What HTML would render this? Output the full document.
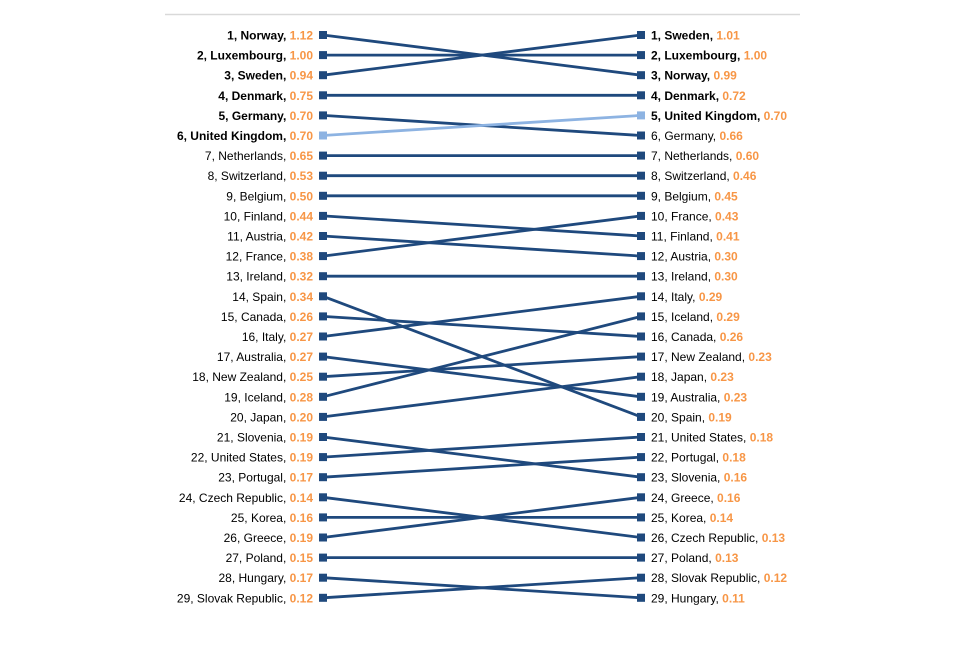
<!DOCTYPE html>
<html><head><meta charset="utf-8"><style>
body{margin:0;background:#fff;}
svg text{font-family:"Liberation Sans",Arial,sans-serif;font-size:12px;}
</style></head><body>
<svg id="chart" width="960" height="640" xmlns="http://www.w3.org/2000/svg">
<line x1="165" y1="14.5" x2="800" y2="14.5" stroke="#d9d9d9" stroke-width="1.5"/>
</svg>
<script>
const leftNames=["Norway","Luxembourg","Sweden","Denmark","Germany","United Kingdom","Netherlands","Switzerland","Belgium","Finland","Austria","France","Ireland","Spain","Canada","Italy","Australia","New Zealand","Iceland","Japan","Slovenia","United States","Portugal","Czech Republic","Korea","Greece","Poland","Hungary","Slovak Republic"];
const leftValues=["1.12","1.00","0.94","0.75","0.70","0.70","0.65","0.53","0.50","0.44","0.42","0.38","0.32","0.34","0.26","0.27","0.27","0.25","0.28","0.20","0.19","0.19","0.17","0.14","0.16","0.19","0.15","0.17","0.12"];
const rightNames=["Sweden","Luxembourg","Norway","Denmark","United Kingdom","Germany","Netherlands","Switzerland","Belgium","France","Finland","Austria","Ireland","Italy","Iceland","Canada","New Zealand","Japan","Australia","Spain","United States","Portugal","Slovenia","Greece","Korea","Czech Republic","Poland","Slovak Republic","Hungary"];
const rightValues=["1.01","1.00","0.99","0.72","0.70","0.66","0.60","0.46","0.45","0.43","0.41","0.30","0.30","0.29","0.29","0.26","0.23","0.23","0.23","0.19","0.18","0.18","0.16","0.16","0.14","0.13","0.13","0.12","0.11"];
const leftBold=6, rightBold=5, highlight="United Kingdom";
const svg=document.getElementById('chart');
const NS="http://www.w3.org/2000/svg";
const xL=323,xR=641,y0=35,dy=20.1;
const y=i=>y0+i*dy;
function mk(tag,attrs){const e=document.createElementNS(NS,tag);for(const k in attrs)e.setAttribute(k,attrs[k]);svg.appendChild(e);return e;}
leftNames.forEach((n,i)=>{
  const j=rightNames.indexOf(n);
  const col=n===highlight?"#8db3e2":"#1f497d";
  const l=mk('line',{x1:xL,y1:y(i),x2:xR,y2:y(j),stroke:col,'stroke-width':2.8});
  
  
  const a=mk('rect',{x:xL-4,y:y(i)-4,width:8,height:8,fill:col});
  
  
  const b=mk('rect',{x:xR-4,y:y(j)-4,width:8,height:8,fill:col});
  
  
});
function label(x,i,anchor,name,val,bold,side){
  const t=mk('text',{x:x,y:y(i)+4.5,'text-anchor':anchor,fill:'#000','font-weight':bold?'bold':'normal'});
  
  
  const s1=document.createElementNS(NS,'tspan');s1.textContent=(i+1)+", "+name+", ";t.appendChild(s1);
  const s2=document.createElementNS(NS,'tspan');s2.textContent=val;s2.setAttribute('fill','#f79646');s2.setAttribute('font-weight','bold');t.appendChild(s2);
}
leftNames.forEach((n,i)=>label(313,i,'end',n,leftValues[i],i<leftBold,'left'));
rightNames.forEach((n,i)=>label(651,i,'start',n,rightValues[i],i<rightBold,'right'));
</script>
</body></html>
